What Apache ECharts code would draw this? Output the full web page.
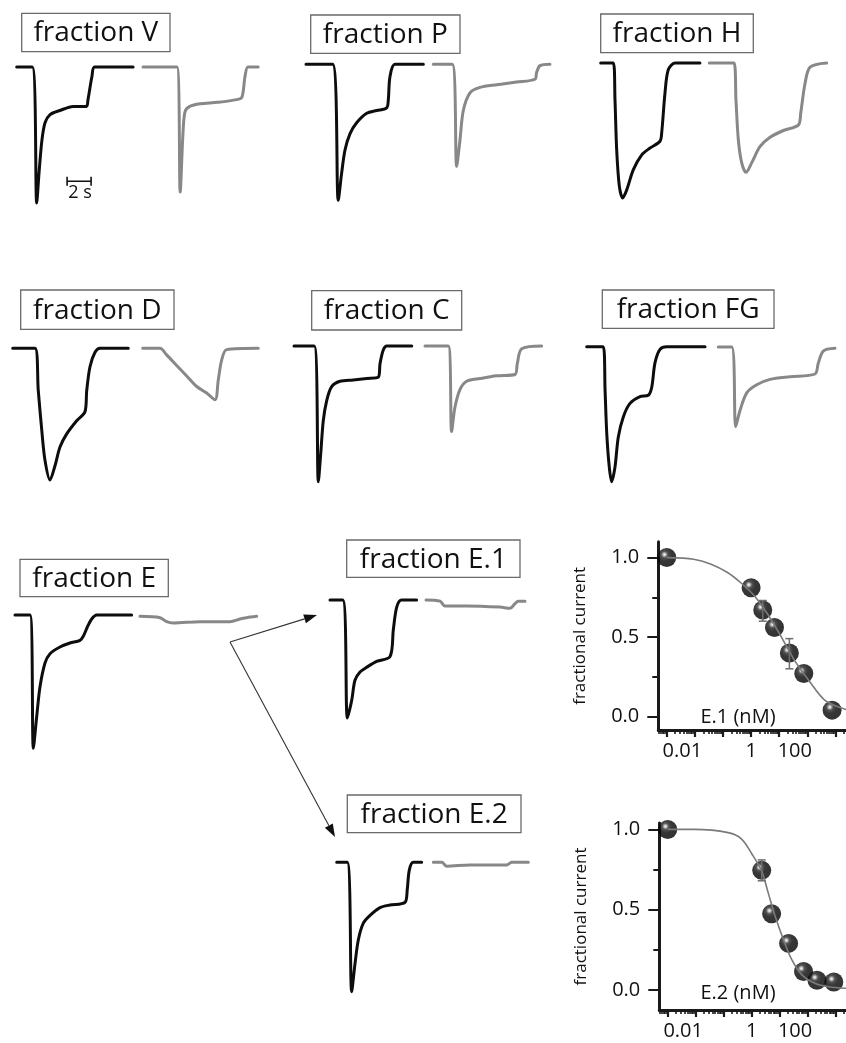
<!DOCTYPE html>
<html>
<head>
<meta charset="utf-8">
<script src="https://cdn.jsdelivr.net/npm/echarts@6/dist/echarts.min.js"></script>
<style>
  html, body { margin: 0; padding: 0; background: #ffffff; }
  #chart { width: 846px; height: 1043px; }
</style>
</head>
<body>
<div id="chart"></div>
<script>
// ---- Current traces: [time (s), current normalised to the control peak] ----
const vCtrl  = [[0,0],[1.3,0],[1.67,-1],[1.86,-0.78],[2.1,-0.54],[2.36,-0.41],[2.78,-0.35],[3.6,-0.32],[4.7,-0.29],[5.8,-0.29],[5.94,-0.24],[6.27,-0.07],[6.5,0],[9.7,0]];
const vTest  = [[0,0],[2.83,0],[3.1,-0.92],[3.33,-0.49],[3.5,-0.33],[3.9,-0.29],[4.75,-0.27],[6.2,-0.26],[7.8,-0.24],[8.25,-0.22],[8.5,-0.07],[8.75,0],[9.6,0]];
const pCtrl  = [[0,0],[2.22,0],[2.69,-1],[2.97,-0.80],[3.25,-0.63],[3.67,-0.51],[4.22,-0.43],[5.06,-0.36],[5.89,-0.34],[6.72,-0.32],[6.86,-0.26],[7.0,-0.09],[7.42,0],[9.78,0]];
const pTest  = [[0,0],[1.58,0],[1.95,-0.75],[2.22,-0.56],[2.5,-0.34],[3.06,-0.21],[3.89,-0.17],[5.28,-0.15],[6.95,-0.13],[8.47,-0.11],[8.61,-0.06],[8.89,-0.01],[9.72,0]];
const hCtrl  = [[0,0],[1.05,0],[1.19,-0.27],[1.33,-0.64],[1.55,-0.91],[1.83,-1],[2.17,-0.94],[2.72,-0.79],[3.42,-0.68],[4.11,-0.63],[4.94,-0.58],[5.08,-0.52],[5.36,-0.22],[5.63,-0.05],[6.19,0],[8.27,0]];
const hTest  = [[0,0],[2.06,0],[2.22,-0.27],[2.42,-0.57],[2.7,-0.74],[3.06,-0.81],[3.53,-0.74],[4.22,-0.62],[5.06,-0.55],[6.17,-0.50],[7.42,-0.46],[7.62,-0.37],[7.98,-0.15],[8.4,-0.03],[9.78,0]];
const dCtrl  = [[0,0],[1.86,0],[2.13,-0.32],[2.42,-0.62],[2.69,-0.85],[3.11,-1],[3.53,-0.89],[3.94,-0.75],[4.5,-0.65],[5.33,-0.55],[6.03,-0.48],[6.17,-0.32],[6.44,-0.14],[6.86,-0.03],[7.28,0],[9.63,0]];
const dTest  = [[0,0],[1.44,0],[2.0,-0.05],[2.83,-0.13],[3.67,-0.21],[4.5,-0.29],[5.33,-0.34],[6.03,-0.39],[6.3,-0.24],[6.58,-0.09],[7.0,-0.01],[9.63,0]];
const cCtrl  = [[0,0],[1.69,0],[2.03,-1],[2.23,-0.79],[2.44,-0.55],[2.73,-0.40],[3.14,-0.30],[3.83,-0.26],[4.94,-0.25],[6.06,-0.24],[7.03,-0.23],[7.17,-0.13],[7.44,-0.03],[7.73,0],[9.81,0]];
const cTest  = [[0,0],[1.94,0],[2.22,-0.63],[2.5,-0.45],[2.92,-0.32],[3.47,-0.26],[4.58,-0.24],[5.97,-0.22],[7.5,-0.21],[7.69,-0.13],[8.06,-0.02],[9.72,0]];
const fgCtrl = [[0,0],[1.38,0],[1.53,-0.32],[1.67,-0.64],[1.88,-0.89],[2.08,-1],[2.36,-0.89],[2.63,-0.67],[3.05,-0.52],[3.61,-0.42],[4.44,-0.37],[5.13,-0.36],[5.42,-0.30],[5.69,-0.12],[6.11,-0.02],[6.67,0],[9.86,0]];
const fgTest = [[0,0],[1.12,0],[1.45,-0.59],[1.81,-0.47],[2.37,-0.34],[3.2,-0.28],[4.31,-0.24],[5.97,-0.22],[8.06,-0.20],[8.33,-0.12],[8.75,-0.03],[9.72,-0.01]];
const eCtrl  = [[0,0],[1.25,0],[1.53,-1],[1.81,-0.76],[2.08,-0.54],[2.5,-0.36],[2.92,-0.29],[3.75,-0.24],[4.58,-0.21],[5.42,-0.19],[5.69,-0.16],[6.03,-0.09],[6.39,-0.03],[6.81,0],[9.72,0]];
const eTest  = [[0,-0.01],[1.67,-0.02],[2.22,-0.05],[2.78,-0.06],[5.0,-0.05],[7.5,-0.05],[8.33,-0.03],[8.89,-0.02],[9.72,-0.01]];
const e1Ctrl = [[0,0],[1.06,0],[1.45,-1],[1.81,-0.85],[2.08,-0.68],[2.5,-0.61],[3.06,-0.57],[3.89,-0.52],[5.0,-0.48],[5.28,-0.25],[5.56,-0.06],[5.97,0],[7.22,0]];
const e1Test = [[0,0],[1.17,-0.01],[1.58,-0.05],[3.39,-0.05],[6.17,-0.06],[7.0,-0.07],[7.42,-0.03],[7.69,-0.01],[8.25,-0.01]];
const e2Ctrl = [[0,0],[0.88,0],[1.25,-1],[1.53,-0.78],[1.8,-0.60],[2.22,-0.47],[2.78,-0.41],[3.61,-0.35],[4.44,-0.33],[5.69,-0.31],[5.88,-0.21],[6.05,-0.06],[6.38,0],[7.08,0]];
const e2Test = [[0,0],[0.7,0],[1.12,-0.03],[3.06,-0.02],[6.12,-0.02],[6.53,0],[7.92,0]];

// time scale bar (2 s) drawn inside the fraction V control trace
const scaleBar = [[4.2,-0.84],[6.2,-0.84]];

// ---- Concentration–response data (nM, fractional current) ----
const e1Conc = [0.001, 1, 2.6, 6.8, 23, 75, 760];
const e1Frac = [1.0, 0.81, 0.67, 0.56, 0.40, 0.27, 0.04];
const e1Err  = [[2.6, 0.60, 0.73], [23, 0.30, 0.49]];
const e1FitConc = [0.001, 0.009, 0.036, 0.145, 0.44, 1.3, 4, 12, 36, 110, 436, 2800];
const e1FitFrac = [1.0, 0.99, 0.96, 0.906, 0.84, 0.76, 0.64, 0.50, 0.35, 0.23, 0.10, 0.04];

const e2Conc = [0.001, 2.3, 5.2, 21, 72, 218, 870];
const e2Frac = [1.0, 0.745, 0.475, 0.29, 0.115, 0.06, 0.05];
const e2Err  = [[2.3, 0.68, 0.81]];
const e2FitConc = [0.001, 0.009, 0.145, 0.44, 1, 2.3, 4, 6.9, 14, 27, 63, 190, 570, 2600];
const e2FitFrac = [1.0, 1.0, 0.98, 0.94, 0.85, 0.74, 0.60, 0.46, 0.31, 0.19, 0.094, 0.04, 0.02, 0.01];

// axis ticks
const concDecades = [0.001, 0.01, 0.1, 1, 10, 100, 1000];
const concLabels  = [0.01, 1, 100];
const fracTicks   = [0, 0.5, 1];
const fracMinor   = [0.25, 0.75];

// ---- Layout ----
const FONT = '"Open Sans", "Noto Sans", "DejaVu Sans", sans-serif';
const PX_PER_S = 12;
const CTRL_COLOR = '#0d0d0d';
const TEST_COLOR = '#888888';
const AXIS_COLOR = '#1a1a1a';

const panels = [
  { label: 'fraction V',   box: [21.7, 13.3, 148.3, 38.4],  ctrl: vCtrl,  test: vTest,  ctrlAt: [16.7, 67],   testAt: [143, 67],    amp: 136 },
  { label: 'fraction P',   box: [310.7, 15, 149.3, 38.3],   ctrl: pCtrl,  test: pTest,  ctrlAt: [306, 64.3],  testAt: [433.3, 64.3], amp: 136 },
  { label: 'fraction H',   box: [600.7, 14, 152.6, 38.7],   ctrl: hCtrl,  test: hTest,  ctrlAt: [600.7, 63],  testAt: [709.3, 63],  amp: 135 },
  { label: 'fraction D',   box: [20.7, 290, 153.3, 39.3],   ctrl: dCtrl,  test: dTest,  ctrlAt: [12.7, 348.3], testAt: [142.7, 348.3], amp: 131.7 },
  { label: 'fraction C',   box: [311.7, 290.7, 150, 39.3],  ctrl: cCtrl,  test: cTest,  ctrlAt: [294, 346],   testAt: [425, 346],   amp: 135.7 },
  { label: 'fraction FG',  box: [602.3, 290, 171.7, 38.3],  ctrl: fgCtrl, test: fgTest, ctrlAt: [586.7, 346.7], testAt: [718.3, 347], amp: 135 },
  { label: 'fraction E',   box: [20, 559.3, 148.3, 37.4],   ctrl: eCtrl,  test: eTest,  ctrlAt: [15, 615],    testAt: [140, 615],   amp: 133.3 },
  { label: 'fraction E.1', box: [346.7, 540, 173.3, 37.3],  ctrl: e1Ctrl, test: e1Test, ctrlAt: [330, 600],   testAt: [426, 600],   amp: 118 },
  { label: 'fraction E.2', box: [347.3, 795, 173.7, 37.7],  ctrl: e2Ctrl, test: e2Test, ctrlAt: [336.7, 862.3], testAt: [433.3, 862.3], amp: 129.4 }
];

const grids = [], xAxes = [], yAxes = [], series = [], graphics = [];

function addTrace(data, at, amp, color) {
  const T = data[data.length - 1][0];
  const gi = grids.length;
  grids.push({ left: at[0], top: at[1], width: T * PX_PER_S, height: amp, outerBoundsMode: 'none' });
  xAxes.push({ gridIndex: gi, type: 'value', min: 0, max: T, show: false });
  yAxes.push({ gridIndex: gi, type: 'value', min: -1, max: 0, show: false });
  const xi = xAxes.length - 1, yi = yAxes.length - 1;
  series.push({
    type: 'line', xAxisIndex: xi, yAxisIndex: yi, data: data,
    symbol: 'none', showSymbol: false, smooth: 0.3,
    clip: false, silent: true, animation: false,
    lineStyle: { color: color, width: 3, join: 'round', cap: 'round' }
  });
  return { xi, yi };
}

panels.forEach((p, k) => {
  const c = addTrace(p.ctrl, p.ctrlAt, p.amp, CTRL_COLOR);
  addTrace(p.test, p.testAt, p.amp, TEST_COLOR);
  if (k === 0) {
    series.push({
      type: 'line', xAxisIndex: c.xi, yAxisIndex: c.yi, data: scaleBar,
      symbol: 'rect', symbolSize: [1.6, 9], showSymbol: true, clip: false,
      silent: true, animation: false,
      itemStyle: { color: '#111' }, lineStyle: { color: '#111', width: 1.6 }
    });
  }
  const [bx, by, bw, bh] = p.box;
  graphics.push({
    type: 'rect', shape: { x: bx, y: by, width: bw, height: bh },
    style: { fill: '#fff', stroke: '#6a6a6a', lineWidth: 1.3 }, z: 10
  });
  graphics.push({
    type: 'text', x: bx + bw / 2, y: by + bh / 2 + 1,
    style: { text: p.label, font: '28px ' + FONT, fill: '#111', textAlign: 'center', textVerticalAlign: 'middle' }, z: 11
  });
});

// scale bar caption
graphics.push({ type: 'text', x: 80, y: 193, style: { text: '2 s', font: '18px ' + FONT, fill: '#111', textAlign: 'center', textVerticalAlign: 'middle' } });

// ---- Concentration–response panels ----
const minorConc = [];
concDecades.concat([10000]).forEach(d => { for (let m = 2; m <= 9; m++) minorConc.push(+(d / 10 * m).toPrecision(3)); });

function labelFmt(v) {
  const s = String(+(+v).toPrecision(3));
  return s === '1' ? s : '{s|' + s + '}';
}

function addDose(cfg) {
  const gi = grids.length;
  grids.push({ left: cfg.left, top: cfg.top, width: 846 - cfg.left + 2, height: cfg.height, outerBoundsMode: 'none' });
  const xi = xAxes.length;
  xAxes.push({
    gridIndex: gi, type: 'log', logBase: 10, min: 0.0005, max: 2800, position: 'bottom',
    axisLine: { show: true, onZero: false, lineStyle: { color: AXIS_COLOR, width: 3 } },
    axisTick: { show: true, customValues: concDecades, length: 7, lineStyle: { color: AXIS_COLOR, width: 2.2 } },
    axisLabel: {
      show: true, customValues: concLabels, formatter: labelFmt, margin: 11,
      fontSize: 20, color: '#111', fontFamily: FONT,
      rich: { s: { fontSize: 20, fontFamily: FONT, color: '#111', padding: [0, 25, 0, 0] } }
    },
    splitLine: { show: false }
  });
  xAxes.push({
    gridIndex: gi, type: 'log', logBase: 10, min: 0.0005, max: 2800, position: 'bottom',
    axisLine: { show: false, onZero: false },
    axisTick: { show: true, customValues: minorConc, length: 4, lineStyle: { color: AXIS_COLOR, width: 1.6 } },
    axisLabel: { show: false }, splitLine: { show: false }
  });
  const yi = yAxes.length;
  yAxes.push({
    gridIndex: gi, type: 'value', min: cfg.ymin, max: cfg.ymax, position: 'left',
    axisLine: { show: true, onZero: false, lineStyle: { color: AXIS_COLOR, width: 3 } },
    axisTick: { show: true, customValues: fracTicks, length: 11, lineStyle: { color: AXIS_COLOR, width: 2 } },
    axisLabel: { show: true, customValues: fracTicks, formatter: v => (+v).toFixed(1), margin: 19, fontSize: 20, color: '#111', fontFamily: FONT },
    splitLine: { show: false },
    name: 'fractional current', nameLocation: 'middle', nameGap: 70, nameRotate: 90,
    nameTextStyle: { fontSize: 17, color: '#111', fontFamily: FONT }
  });
  yAxes.push({
    gridIndex: gi, type: 'value', min: cfg.ymin, max: cfg.ymax, position: 'left',
    axisLine: { show: false, onZero: false },
    axisTick: { show: true, customValues: fracMinor, length: 6, lineStyle: { color: AXIS_COLOR, width: 2 } },
    axisLabel: { show: false }, splitLine: { show: false }
  });
  series.push({
    type: 'scatter', xAxisIndex: xi, yAxisIndex: yi,
    data: cfg.conc.map((c, i) => [c, cfg.frac[i]]),
    symbol: 'circle', symbolSize: 19, z: 2, silent: true, animation: false,
    itemStyle: {
      color: { type: 'radial', x: 0.38, y: 0.34, r: 0.62,
        colorStops: [{ offset: 0, color: '#ffffff' }, { offset: 0.1, color: '#bdbdbd' }, { offset: 0.28, color: '#262626' }, { offset: 0.55, color: '#050505' }, { offset: 1, color: '#000' }] }
    }
  });
  series.push({
    type: 'line', xAxisIndex: xi, yAxisIndex: yi,
    data: cfg.fitConc.map((c, i) => [c, cfg.fitFrac[i]]),
    symbol: 'none', smooth: 0.3, clip: false, z: 3, silent: true, animation: false,
    lineStyle: { color: '#7a7a7a', width: 1.6 }
  });
  series.push({
    type: 'custom', xAxisIndex: xi, yAxisIndex: yi, data: cfg.err, z: 4, silent: true, animation: false,
    encode: { x: 0, y: [1, 2] },
    renderItem: (params, api) => {
      const lo = api.coord([api.value(0), api.value(1)]);
      const hi = api.coord([api.value(0), api.value(2)]);
      const st = { stroke: '#6e6e6e', lineWidth: 1.5 };
      return { type: 'group', children: [
        { type: 'line', shape: { x1: lo[0], y1: lo[1], x2: hi[0], y2: hi[1] }, style: st },
        { type: 'line', shape: { x1: lo[0] - 4, y1: lo[1], x2: lo[0] + 4, y2: lo[1] }, style: st },
        { type: 'line', shape: { x1: hi[0] - 4, y1: hi[1], x2: hi[0] + 4, y2: hi[1] }, style: st }
      ] };
    }
  });
  graphics.push({ type: 'text', x: cfg.nameAt[0], y: cfg.nameAt[1],
    style: { text: cfg.name, font: '20px ' + FONT, fill: '#111', textAlign: 'center', textVerticalAlign: 'middle' }, z: 5 });
}

addDose({ left: 658.3, top: 541.7, height: 188.3, ymin: -0.085, ymax: 1.1,
  conc: e1Conc, frac: e1Frac, err: e1Err, fitConc: e1FitConc, fitFrac: e1FitFrac,
  name: 'E.1 (nM)', nameAt: [738, 717] });
addDose({ left: 659.3, top: 823, height: 187, ymin: -0.125, ymax: 1.04,
  conc: e2Conc, frac: e2Frac, err: e2Err, fitConc: e2FitConc, fitFrac: e2FitFrac,
  name: 'E.2 (nM)', nameAt: [738, 993] });

// ---- arrows from fraction E to its sub-fractions ----
function arrow(from, to) {
  const dx = to[0] - from[0], dy = to[1] - from[1];
  const L = Math.hypot(dx, dy), ux = dx / L, uy = dy / L;
  const hl = 13, hw = 4.5;
  const bx = to[0] - ux * hl, by = to[1] - uy * hl;
  graphics.push({ type: 'line', shape: { x1: from[0], y1: from[1], x2: bx, y2: by }, style: { stroke: '#333', lineWidth: 1.1 } });
  graphics.push({ type: 'polygon', shape: { points: [to, [bx - uy * hw, by + ux * hw], [bx + uy * hw, by - ux * hw]] }, style: { fill: '#111' } });
}
arrow([230, 642], [317, 615]);
arrow([230, 642], [335, 837]);

const chart = echarts.init(document.getElementById('chart'), null, { renderer: 'canvas', width: 846, height: 1043 });
chart.setOption({
  backgroundColor: '#ffffff',
  animation: false,
  textStyle: { fontFamily: FONT },
  grid: grids, xAxis: xAxes, yAxis: yAxes, series: series,
  graphic: { elements: graphics }
});
</script>
</body>
</html>
